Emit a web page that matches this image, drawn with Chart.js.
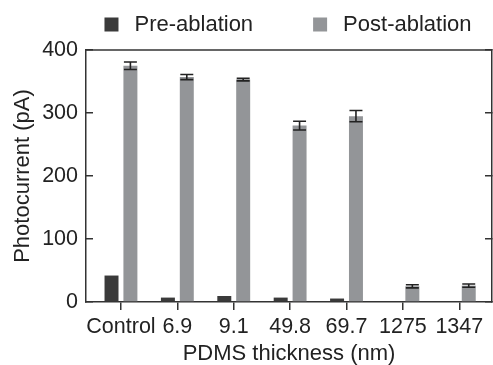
<!DOCTYPE html>
<html>
<head>
<meta charset="utf-8">
<script src="https://cdn.jsdelivr.net/npm/chart.js@4.4.1/dist/chart.umd.min.js"></script>
<style>
  html, body { margin: 0; padding: 0; background: #fff; }
  canvas { display: block; }
</style>
</head>
<body>
<canvas id="chart" width="493" height="365"></canvas>
<script>
// data
const categories = ['Control', '6.9', '9.1', '49.8', '69.7', '1275', '1347'];
const preAblation = [42, 7, 9.5, 7, 5.5, null, null];
const postAblation = [375, 357, 353, 280, 295, 25, 26];
const postError = [6, 4, 2, 7, 9, 2.5, 2.5];
const yTicks = [0, 100, 200, 300, 400];

const FONT = "'Liberation Sans', Arial, sans-serif";
const INK = '#222';
const AXIS = '#333';

// error bars on the post-ablation bars
const errorBars = {
    id: 'errorBars',
    afterDatasetsDraw(chart) {
        const meta = chart.getDatasetMeta(1);
        const y = chart.scales.y;
        const ctx = chart.ctx;
        ctx.save();
        ctx.strokeStyle = INK;
        ctx.lineWidth = 1.6;
        meta.data.forEach((bar, i) => {
            const v = postAblation[i];
            const e = postError[i];
            if (v == null || !e) return;
            const top = y.getPixelForValue(v + e);
            const bot = y.getPixelForValue(v - e);
            const half = bar.width / 2 - 0.5;
            ctx.beginPath();
            ctx.moveTo(bar.x, top);
            ctx.lineTo(bar.x, bot);
            ctx.moveTo(bar.x - half, top);
            ctx.lineTo(bar.x + half, top);
            ctx.moveTo(bar.x - half, bot);
            ctx.lineTo(bar.x + half, bot);
            ctx.stroke();
        });
        ctx.restore();
    }
};

// top frame line + legend
const frameAndLegend = {
    id: 'frameAndLegend',
    afterDraw(chart) {
        const ctx = chart.ctx;
        const area = chart.chartArea;
        ctx.save();
        ctx.strokeStyle = AXIS;
        ctx.lineWidth = 1.5;
        ctx.beginPath();
        ctx.moveTo(area.left, area.top);
        ctx.lineTo(area.right, area.top);
        ctx.stroke();

        ctx.font = '22px ' + FONT;
        ctx.textBaseline = 'middle';
        const box = 14, gapText = 16, gapItem = 60;
        const items = chart.data.datasets.map(ds => ({
            text: ds.label,
            color: ds.backgroundColor,
            w: box + gapText + ctx.measureText(ds.label).width
        }));
        const total = items.reduce((s, it) => s + it.w, 0) + gapItem * (items.length - 1);
        let x = (area.left + area.right) / 2 - 1 - total / 2;
        const cy = 24.5;
        items.forEach(it => {
            ctx.fillStyle = it.color;
            ctx.fillRect(x, cy - box / 2, box, box);
            ctx.fillStyle = INK;
            ctx.fillText(it.text, x + box + gapText, cy);
            x += it.w + gapItem;
        });
        ctx.restore();
    }
};

const ctx = document.getElementById('chart').getContext('2d');
new Chart(ctx, {
    type: 'bar',
    data: {
        datasets: [
            {
                label: 'Pre-ablation',
                data: preAblation.map((v, i) => ({ x: i, y: v })),
                backgroundColor: '#3a3a3a',
                borderWidth: 0
            },
            {
                label: 'Post-ablation',
                data: postAblation.map((v, i) => ({ x: i, y: v })),
                backgroundColor: '#939598',
                borderWidth: 0
            }
        ]
    },
    options: {
        responsive: false,
        animation: false,
        categoryPercentage: 0.67,
        barPercentage: 0.74,
        layout: { padding: { top: 50, left: 0, right: 0, bottom: 0 } },
        plugins: {
            legend: { display: false },
            tooltip: { enabled: false }
        },
        scales: {
            x: {
                type: 'linear',
                position: 'bottom',
                min: -0.62,
                max: 6.58,
                offset: false,
                afterFit: s => { s.height = 63; },
                afterBuildTicks: s => { s.ticks = categories.map((c, i) => ({ value: i })); },
                grid: { drawOnChartArea: false, offset: false, tickLength: 8, color: AXIS, lineWidth: 1.5 },
                border: { color: AXIS, width: 1.5 },
                ticks: {
                    autoSkip: false,
                    maxRotation: 0,
                    padding: 4,
                    color: INK,
                    font: { family: FONT, size: 21.5 },
                    callback: v => categories[Math.round(v)]
                },
                title: {
                    display: true,
                    text: 'PDMS thickness (nm)',
                    color: INK,
                    padding: { top: 0, bottom: 0 },
                    font: { family: FONT, size: 22, lineHeight: 1 }
                }
            },
            y: {
                position: 'left',
                min: 0,
                max: 400,
                afterFit: s => { s.width = 86; },
                afterBuildTicks: s => { s.ticks = yTicks.map(v => ({ value: v })); },
                grid: { drawOnChartArea: false, tickLength: -7, color: AXIS, lineWidth: 1.5 },
                border: { color: AXIS, width: 1.5 },
                ticks: {
                    padding: 15,
                    color: INK,
                    font: { family: FONT, size: 21.5 }
                },
                title: {
                    display: true,
                    text: 'Photocurrent (pA)',
                    color: INK,
                    padding: { top: 10, bottom: 0 },
                    font: { family: FONT, size: 22 }
                }
            },
            y2: {
                position: 'right',
                min: 0,
                max: 400,
                afterFit: s => { s.width = 1; },
                afterBuildTicks: s => { s.ticks = yTicks.map(v => ({ value: v })); },
                grid: { drawOnChartArea: false, tickLength: -7, color: AXIS, lineWidth: 1.5 },
                border: { color: AXIS, width: 1.5 },
                ticks: { display: false }
            }
        }
    },
    plugins: [errorBars, frameAndLegend]
});
</script>
</body>
</html>
